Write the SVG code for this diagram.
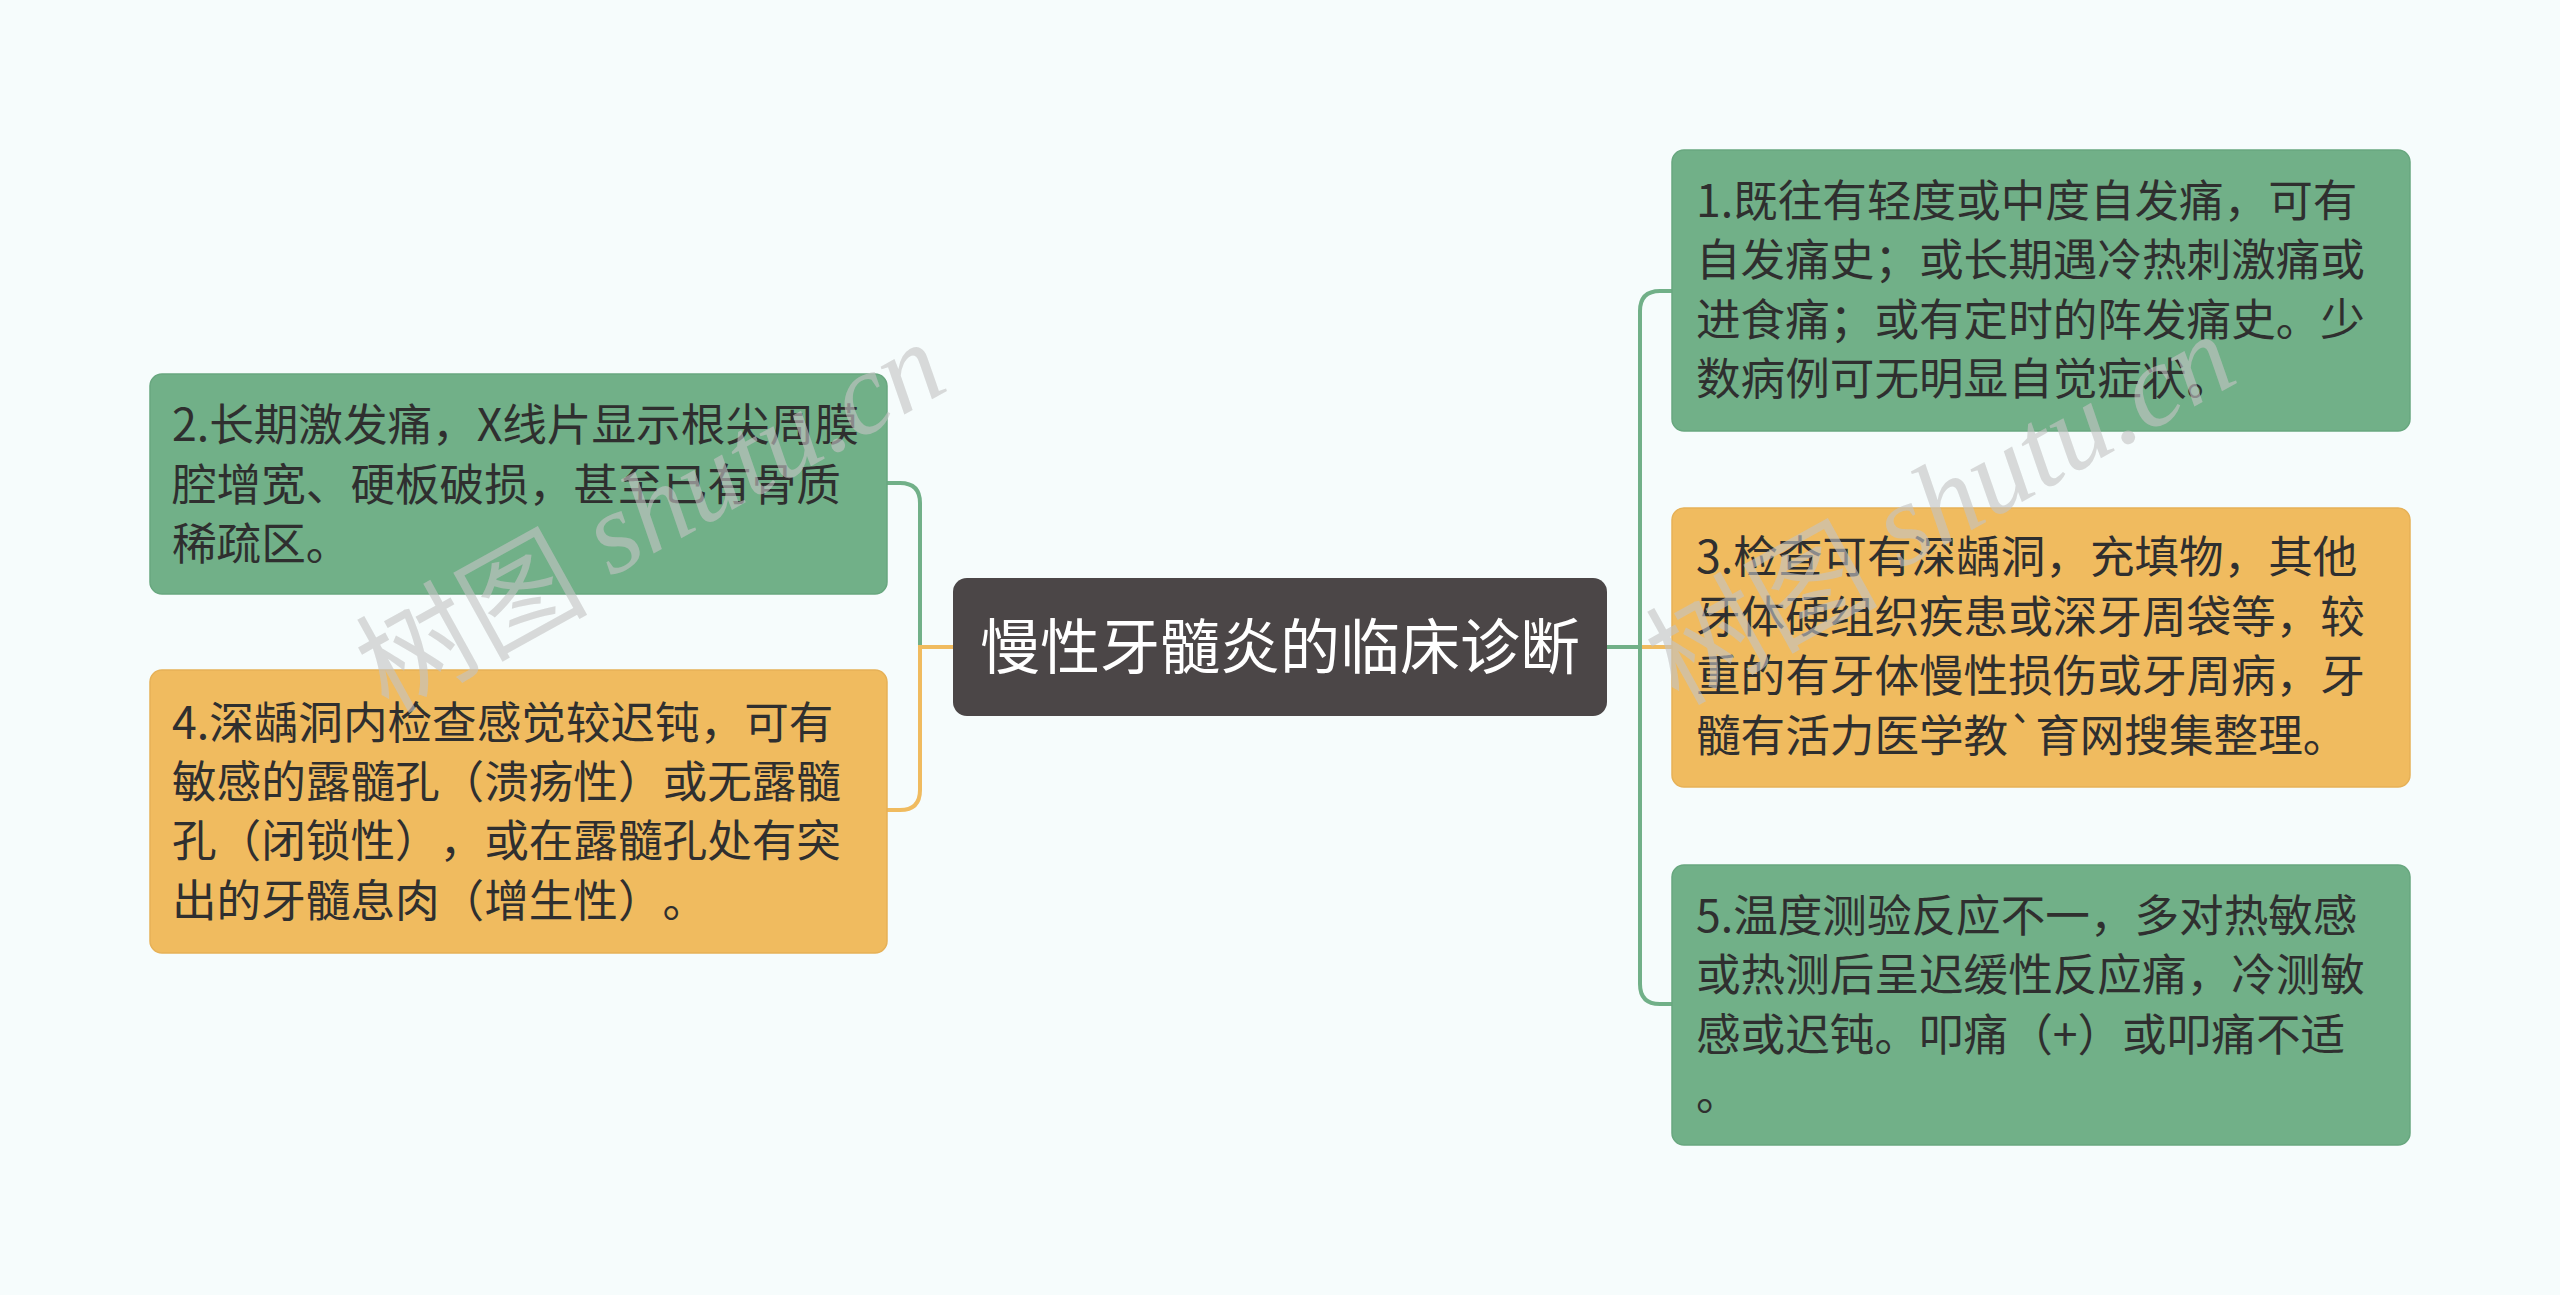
<svg xmlns="http://www.w3.org/2000/svg" width="2560" height="1295" viewBox="0 0 2560 1295">
<style>
.bg{fill:#f6fcfc}
.g{fill:#71b088;stroke:#68a77f;stroke-width:1.5}
.o{fill:#f0bb5f;stroke:#e6b157;stroke-width:1.5}
.c{fill:#4b4647}
.t{font-family:"Noto Sans CJK SC","Noto Sans",sans-serif;font-size:44.6px;fill:#2f2f2f;text-spacing-trim:space-all}
.ct{font-family:"Noto Sans CJK SC","Noto Sans",sans-serif;font-size:60px;fill:#ffffff}
.lg{fill:none;stroke:#71b088;stroke-width:4;stroke-linecap:round}
.lo{fill:none;stroke:#f0bb5f;stroke-width:4;stroke-linecap:round}
.wm{font-size:116px;fill:#c4c4c4;fill-opacity:0.62}
.wm1{font-family:"Noto Sans CJK SC",sans-serif}
.wm2{font-family:"Liberation Serif",serif;font-style:italic}
</style>
<rect class="bg" x="0" y="0" width="2560" height="1295"/>
<g id="connectors">
<path class="lg" d="M887,483 H900 Q920,483 920,503 V647 H953"/>
<path class="lo" d="M887,810 H900 Q920,810 920,790 V647 H953"/>
<path class="lo" d="M1607,647 H1672"/>
<path class="lg" d="M1607,647 H1640 V311 Q1640,291 1660,291 H1672"/>
<path class="lg" d="M1607,647 H1640 V984 Q1640,1004 1660,1004 H1672"/>
</g>
<g id="center">
<rect class="c" x="953" y="578" width="654" height="138" rx="14"/>
<text class="ct" x="1280" y="669" text-anchor="middle">慢性牙髓炎的临床诊断</text>
</g>
<g id="node2">
<rect class="g" x="150" y="374" width="737" height="220" rx="12"/>
<text class="t"><tspan x="172" y="441">2.长期激发痛，X线片显示根尖周膜</tspan><tspan x="172" y="501">腔增宽、硬板破损，甚至已有骨质</tspan><tspan x="172" y="560">稀疏区。</tspan></text>
</g>
<g id="node4">
<rect class="o" x="150" y="670" width="737" height="283" rx="12"/>
<text class="t"><tspan x="172" y="739">4.深龋洞内检查感觉较迟钝，可有</tspan><tspan x="172" y="798">敏感的露髓孔（溃疡性）或无露髓</tspan><tspan x="172" y="857">孔（闭锁性），或在露髓孔处有突</tspan><tspan x="172" y="917">出的牙髓息肉（增生性）。</tspan></text>
</g>
<g id="node1">
<rect class="g" x="1672" y="150" width="738" height="281" rx="12"/>
<text class="t"><tspan x="1696" y="217">1.既往有轻度或中度自发痛，可有</tspan><tspan x="1696" y="276">自发痛史；或长期遇冷热刺激痛或</tspan><tspan x="1696" y="336">进食痛；或有定时的阵发痛史。少</tspan><tspan x="1696" y="395">数病例可无明显自觉症状。</tspan></text>
</g>
<g id="node3">
<rect class="o" x="1672" y="508" width="738" height="279" rx="12"/>
<text class="t"><tspan x="1696" y="573">3.检查可有深龋洞，充填物，其他</tspan><tspan x="1696" y="633">牙体硬组织疾患或深牙周袋等，较</tspan><tspan x="1696" y="692">重的有牙体慢性损伤或牙周病，牙</tspan><tspan x="1696" y="752">髓有活力医学教`育网搜集整理。</tspan></text>
</g>
<g id="node5">
<rect class="g" x="1672" y="865" width="738" height="280" rx="12"/>
<text class="t"><tspan x="1696" y="932">5.温度测验反应不一，多对热敏感</tspan><tspan x="1696" y="991">或热测后呈迟缓性反应痛，冷测敏</tspan><tspan x="1696" y="1051">感或迟钝。叩痛（+）或叩痛不适</tspan><tspan x="1696" y="1110">。</tspan></text>
</g>
<g id="watermarks">
<text class="wm" transform="translate(648,512) rotate(-29)" text-anchor="middle" dominant-baseline="central"><tspan class="wm1">树图</tspan><tspan class="wm2"> shutu.cn</tspan></text>
<text class="wm" transform="translate(1938,504) rotate(-29)" text-anchor="middle" dominant-baseline="central"><tspan class="wm1">树图</tspan><tspan class="wm2"> shutu.cn</tspan></text>
</g>
</svg>
